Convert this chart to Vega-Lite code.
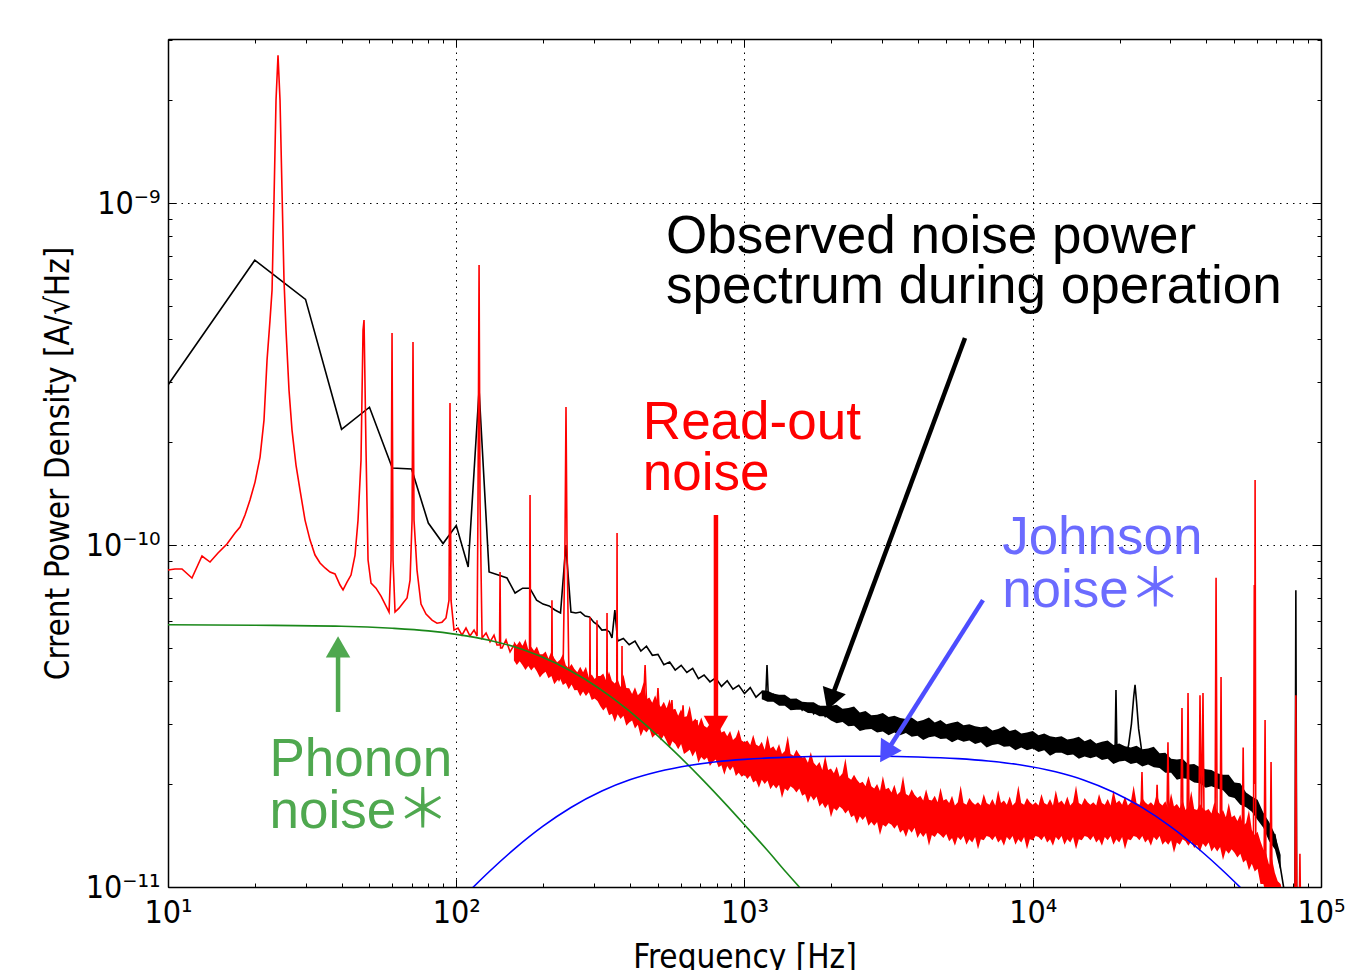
{
"$schema": "https://vega.github.io/schema/vega-lite/v6.json",
"width": 1153, "height": 848,
"autosize": {"type": "none"},
"padding": {"left": 168, "top": 39, "right": 27, "bottom": 83},
"background": "white",
"config": {
 "view": {"stroke": null},
 "axis": {"domainColor": "#000", "domainWidth": 1.5, "tickColor": "#000", "tickWidth": 1, "labelColor": "#000", "labelFont": "DejaVu Sans Condensed, DejaVu Sans", "labelFontSize": 32, "titleFont": "DejaVu Sans Condensed, DejaVu Sans", "titleFontSize": 33, "titleFontWeight": "normal", "titleColor": "#000", "gridColor": "#000", "gridWidth": 1, "gridDash": [1.5, 5], "labelOverlap": false, "labelFlush": false, "labelBound": false}
},
"datasets": {
 "obs": [
  {"f":10,"v":2.94e-10},{"f":20,"v":6.81e-10},{"f":30,"v":5.23e-10},{"f":40,"v":2.18e-10},{"f":50,"v":2.53e-10},{"f":60,"v":1.68e-10},{"f":70,"v":1.67e-10},{"f":80,"v":1.16e-10},{"f":90,"v":1.01e-10},{"f":100,"v":1.14e-10},{"f":110,"v":8.63e-11},{"f":120,"v":2.84e-10},{"f":130,"v":8.34e-11},{"f":140,"v":8.17e-11},{"f":150,"v":8.01e-11},{"f":160,"v":7.24e-11},{"f":170,"v":7.48e-11},{"f":180,"v":7.48e-11},{"f":190,"v":6.9e-11},{"f":200,"v":6.72e-11},{"f":210,"v":6.64e-11},{"f":220,"v":6.46e-11},{"f":230,"v":6.33e-11},{"f":240,"v":1.0e-10},{"f":250,"v":6.37e-11},{"f":260,"v":6.33e-11},{"f":270,"v":6.37e-11},{"f":280,"v":6.2e-11},{"f":290,"v":6.16e-11},{"f":300,"v":5.95e-11},{"f":310,"v":5.83e-11},{"f":320,"v":5.64e-11},{"f":331,"v":5.66e-11},{"f":340,"v":5.57e-11},{"f":347,"v":5.35e-11},{"f":355,"v":6.45e-11},{"f":363,"v":5.24e-11},{"f":380,"v":5.33e-11},{"f":398,"v":5.11e-11},{"f":417,"v":5.24e-11},{"f":437,"v":4.9e-11},{"f":457,"v":5.06e-11},{"f":479,"v":4.76e-11},{"f":501,"v":4.79e-11},{"f":525,"v":4.47e-11},{"f":550,"v":4.55e-11},{"f":575,"v":4.31e-11},{"f":603,"v":4.45e-11},{"f":631,"v":4.24e-11},{"f":661,"v":4.36e-11},{"f":692,"v":4.07e-11},{"f":724,"v":4.17e-11},{"f":759,"v":3.98e-11},{"f":794,"v":4.09e-11},{"f":832,"v":3.86e-11},{"f":871,"v":4.01e-11},{"f":912,"v":3.79e-11},{"f":955,"v":3.89e-11},{"f":1000,"v":3.68e-11},{"f":1047,"v":3.83e-11},{"f":1096,"v":3.59e-11},{"f":1148,"v":3.72e-11},{"f":1185,"v":3.6e-11},{"f":1197,"v":4.46e-11},{"f":1210,"v":3.58e-11},{"f":1259,"v":3.66e-11},{"f":1318,"v":3.44e-11},{"f":1380,"v":3.56e-11},{"f":1445,"v":3.37e-11},{"f":1514,"v":3.52e-11},{"f":1585,"v":3.29e-11},{"f":1660,"v":3.43e-11},{"f":1738,"v":3.21e-11},{"f":1820,"v":3.37e-11},{"f":1905,"v":3.15e-11},{"f":1995,"v":3.32e-11},{"f":2089,"v":3.11e-11},{"f":2188,"v":3.28e-11},{"f":2291,"v":3.08e-11},{"f":2399,"v":3.21e-11},{"f":2512,"v":2.98e-11},{"f":2630,"v":3.13e-11},{"f":2754,"v":2.96e-11},{"f":2884,"v":3.11e-11},{"f":3020,"v":2.92e-11},{"f":3162,"v":3.06e-11},{"f":3311,"v":2.88e-11},{"f":3467,"v":3.05e-11},{"f":3631,"v":2.87e-11},{"f":3802,"v":3.03e-11},{"f":3981,"v":2.83e-11},{"f":4169,"v":2.98e-11},{"f":4365,"v":2.82e-11},{"f":4571,"v":2.99e-11},{"f":4786,"v":2.79e-11},{"f":5012,"v":2.94e-11},{"f":5248,"v":2.77e-11},{"f":5495,"v":2.93e-11},{"f":5754,"v":2.74e-11},{"f":6026,"v":2.89e-11},{"f":6310,"v":2.71e-11},{"f":6607,"v":2.88e-11},{"f":6918,"v":2.7e-11},{"f":7244,"v":2.83e-11},{"f":7586,"v":2.64e-11},{"f":7943,"v":2.81e-11},{"f":8318,"v":2.63e-11},{"f":8710,"v":2.79e-11},{"f":9120,"v":2.61e-11},{"f":9550,"v":2.76e-11},{"f":10000,"v":2.56e-11},{"f":10470,"v":2.74e-11},{"f":10960,"v":2.55e-11},{"f":11480,"v":2.69e-11},{"f":12020,"v":2.51e-11},{"f":12590,"v":2.68e-11},{"f":13180,"v":2.5e-11},{"f":13800,"v":2.67e-11},{"f":14450,"v":2.47e-11},{"f":15140,"v":2.62e-11},{"f":15850,"v":2.44e-11},{"f":16600,"v":2.59e-11},{"f":17380,"v":2.43e-11},{"f":18200,"v":2.57e-11},{"f":19050,"v":2.4e-11},{"f":19300,"v":2.5e-11},{"f":19440,"v":3.77e-11},{"f":19600,"v":2.45e-11},{"f":19950,"v":2.54e-11},{"f":20890,"v":2.38e-11},{"f":21500,"v":2.6e-11},{"f":22000,"v":3.0e-11},{"f":22400,"v":3.6e-11},{"f":22640,"v":3.9e-11},{"f":22900,"v":3.5e-11},{"f":23300,"v":2.9e-11},{"f":23800,"v":2.55e-11},{"f":23990,"v":2.36e-11},{"f":25120,"v":2.48e-11},{"f":26300,"v":2.29e-11},{"f":27540,"v":2.42e-11},{"f":28840,"v":2.22e-11},{"f":30200,"v":2.34e-11},{"f":31620,"v":2.16e-11},{"f":33110,"v":2.27e-11},{"f":34670,"v":2.09e-11},{"f":36310,"v":2.22e-11},{"f":38020,"v":2.05e-11},{"f":39810,"v":2.16e-11},{"f":41690,"v":2.0e-11},{"f":43650,"v":2.12e-11},{"f":45710,"v":1.94e-11},{"f":47860,"v":2.03e-11},{"f":50120,"v":1.85e-11},{"f":52480,"v":1.94e-11},{"f":54950,"v":1.74e-11},{"f":57540,"v":1.79e-11},{"f":60260,"v":1.61e-11},{"f":63100,"v":1.63e-11},{"f":66070,"v":1.39e-11},{"f":69180,"v":1.42e-11},{"f":72440,"v":1.13e-11},{"f":75860,"v":8.9e-12},{"f":81200,"v":8e-12},{"f":81800,"v":7.38e-11},{"f":82400,"v":8e-12},{"f":95000,"v":8e-12}
 ],
 "obsband": [
  {"f":1148,"lo":3.54e-11,"hi":3.76e-11},{"f":1202,"lo":3.48e-11,"hi":3.75e-11},{"f":1259,"lo":3.48e-11,"hi":3.68e-11},{"f":1318,"lo":3.39e-11,"hi":3.65e-11},{"f":1380,"lo":3.39e-11,"hi":3.65e-11},{"f":1445,"lo":3.29e-11,"hi":3.55e-11},{"f":1514,"lo":3.3e-11,"hi":3.56e-11},{"f":1585,"lo":3.3e-11,"hi":3.48e-11},{"f":1660,"lo":3.23e-11,"hi":3.47e-11},{"f":1738,"lo":3.22e-11,"hi":3.47e-11},{"f":1820,"lo":3.16e-11,"hi":3.39e-11},{"f":1905,"lo":3.16e-11,"hi":3.39e-11},
  {"f":1995,"lo":3.07e-11,"hi":3.39e-11},{"f":2089,"lo":3.01e-11,"hi":3.41e-11},{"f":2188,"lo":3.04e-11,"hi":3.32e-11},{"f":2291,"lo":2.95e-11,"hi":3.34e-11},{"f":2399,"lo":2.96e-11,"hi":3.37e-11},{"f":2512,"lo":2.86e-11,"hi":3.24e-11},{"f":2630,"lo":2.89e-11,"hi":3.27e-11},{"f":2754,"lo":2.9e-11,"hi":3.18e-11},{"f":2884,"lo":2.83e-11,"hi":3.19e-11},{"f":3020,"lo":2.85e-11,"hi":3.23e-11},{"f":3162,"lo":2.78e-11,"hi":3.14e-11},{"f":3311,"lo":2.83e-11,"hi":3.17e-11},{"f":3467,"lo":2.78e-11,"hi":3.12e-11},{"f":3631,"lo":2.82e-11,"hi":3.1e-11},{"f":3802,"lo":2.75e-11,"hi":3.13e-11},{"f":3981,"lo":2.77e-11,"hi":3.05e-11},{"f":4169,"lo":2.69e-11,"hi":3.08e-11},{"f":4365,"lo":2.74e-11,"hi":3.13e-11},{"f":4571,"lo":2.76e-11,"hi":3.03e-11},{"f":4786,"lo":2.71e-11,"hi":3.08e-11},{"f":5012,"lo":2.72e-11,"hi":2.99e-11},{"f":5248,"lo":2.65e-11,"hi":3.02e-11},{"f":5495,"lo":2.7e-11,"hi":3.05e-11},{"f":5754,"lo":2.66e-11,"hi":2.97e-11},{"f":6026,"lo":2.68e-11,"hi":2.99e-11},{"f":6310,"lo":2.62e-11,"hi":2.95e-11},{"f":6607,"lo":2.65e-11,"hi":2.93e-11},{"f":6918,"lo":2.56e-11,"hi":2.95e-11},{"f":7244,"lo":2.6e-11,"hi":2.87e-11},{"f":7586,"lo":2.62e-11,"hi":2.9e-11},{"f":7943,"lo":2.57e-11,"hi":2.95e-11},{"f":8318,"lo":2.58e-11,"hi":2.86e-11},{"f":8710,"lo":2.51e-11,"hi":2.89e-11},{"f":9120,"lo":2.56e-11,"hi":2.81e-11},{"f":9550,"lo":2.51e-11,"hi":2.83e-11},{"f":10000,"lo":2.54e-11,"hi":2.86e-11},{"f":10470,"lo":2.48e-11,"hi":2.78e-11},{"f":10960,"lo":2.51e-11,"hi":2.81e-11},{"f":11480,"lo":2.42e-11,"hi":2.76e-11},{"f":12020,"lo":2.47e-11,"hi":2.74e-11},{"f":12590,"lo":2.47e-11,"hi":2.76e-11},{"f":13180,"lo":2.43e-11,"hi":2.7e-11},{"f":13800,"lo":2.44e-11,"hi":2.72e-11},{"f":14450,"lo":2.37e-11,"hi":2.75e-11},{"f":15140,"lo":2.41e-11,"hi":2.67e-11},{"f":15850,"lo":2.38e-11,"hi":2.71e-11},{"f":16600,"lo":2.41e-11,"hi":2.63e-11},{"f":17380,"lo":2.35e-11,"hi":2.66e-11},{"f":18200,"lo":2.37e-11,"hi":2.68e-11},{"f":19050,"lo":2.29e-11,"hi":2.6e-11},{"f":19950,"lo":2.33e-11,"hi":2.63e-11},{"f":20890,"lo":2.34e-11,"hi":2.58e-11},{"f":21880,"lo":2.29e-11,"hi":2.56e-11},{"f":22910,"lo":2.31e-11,"hi":2.59e-11},{"f":23990,"lo":2.25e-11,"hi":2.53e-11},{"f":25120,"lo":2.28e-11,"hi":2.54e-11},{"f":26300,"lo":2.24e-11,"hi":2.57e-11},{"f":27540,"lo":2.23e-11,"hi":2.46e-11},{"f":28840,"lo":2.16e-11,"hi":2.47e-11},{"f":30200,"lo":2.16e-11,"hi":2.37e-11},{"f":31620,"lo":2.06e-11,"hi":2.36e-11},{"f":33110,"lo":2.08e-11,"hi":2.37e-11},{"f":34670,"lo":2.07e-11,"hi":2.28e-11},{"f":36310,"lo":2.02e-11,"hi":2.29e-11},{"f":38020,"lo":2.01e-11,"hi":2.24e-11},{"f":39810,"lo":1.95e-11,"hi":2.21e-11},{"f":41690,"lo":1.97e-11,"hi":2.2e-11},{"f":43650,"lo":1.94e-11,"hi":2.15e-11},{"f":45710,"lo":1.92e-11,"hi":2.13e-11},{"f":47860,"lo":1.84e-11,"hi":2.13e-11},{"f":50120,"lo":1.82e-11,"hi":2.02e-11},{"f":52480,"lo":1.74e-11,"hi":2.01e-11},{"f":54950,"lo":1.71e-11,"hi":1.89e-11},{"f":57540,"lo":1.66e-11,"hi":1.84e-11},{"f":60260,"lo":1.57e-11,"hi":1.8e-11},{"f":63100,"lo":1.49e-11,"hi":1.65e-11},{"f":66070,"lo":1.36e-11,"hi":1.55e-11},{"f":69180,"lo":1.29e-11,"hi":1.43e-11},{"f":72440,"lo":1.11e-11,"hi":1.24e-11}
 ],
 "readout": [
  {"f":10,"v":8.45e-11},{"f":10.57,"v":8.51e-11},{"f":11.18,"v":8.51e-11},{"f":12.11,"v":8.01e-11},{"f":13.12,"v":9.29e-11},{"f":13.99,"v":8.92e-11},{"f":14.91,"v":9.48e-11},{"f":16.02,"v":1.007e-10},{"f":17.08,"v":1.084e-10},{"f":17.78,"v":1.129e-10},{"f":18.5,"v":1.224e-10},{"f":19.25,"v":1.354e-10},{"f":20.04,"v":1.528e-10},{"f":20.86,"v":1.808e-10},{"f":21.53,"v":2.32e-10},{"f":22.06,"v":3.475e-10},{"f":22.59,"v":4.548e-10},{"f":22.96,"v":5.567e-10},{"f":23.32,"v":1.02e-9},{"f":23.7,"v":2.001e-9},{"f":24.08,"v":2.708e-9},{"f":24.47,"v":2.001e-9},{"f":24.86,"v":1.091e-9},{"f":25.26,"v":5.954e-10},{"f":25.67,"v":4.253e-10},{"f":26.29,"v":2.839e-10},{"f":26.93,"v":2.169e-10},{"f":27.8,"v":1.714e-10},{"f":28.71,"v":1.448e-10},{"f":29.88,"v":1.183e-10},{"f":31.1,"v":1.034e-10},{"f":32.36,"v":9.35e-11},{"f":33.68,"v":8.86e-11},{"f":35.06,"v":8.57e-11},{"f":36.48,"v":8.34e-11},{"f":37.97,"v":8.23e-11},{"f":39.52,"v":7.64e-11},{"f":40.48,"v":7.39e-11},{"f":41.79,"v":7.79e-11},{"f":43.14,"v":8.17e-11},{"f":44.55,"v":9.35e-11},{"f":45.63,"v":1.183e-10},{"f":46.73,"v":1.772e-10},{"f":47.49,"v":4.253e-10},{"f":47.87,"v":4.548e-10},{"f":48.64,"v":1.895e-10},{"f":49.43,"v":9.04e-11},{"f":50.62,"v":7.74e-11},{"f":52.68,"v":7.48e-11},{"f":54.83,"v":7.09e-11},{"f":57.07,"v":6.63e-11},{"f":58.46,"v":6.37e-11},{"f":59.4,"v":9.04e-11},{"f":59.87,"v":4.168e-10},{"f":60.35,"v":9.04e-11},{"f":61.32,"v":6.37e-11},{"f":63.32,"v":6.54e-11},{"f":65.38,"v":6.77e-11},{"f":67.5,"v":7.0e-11},{"f":69.14,"v":7.9e-11},{"f":70.26,"v":1.183e-10},{"f":70.79,"v":3.923e-10},{"f":71.36,"v":1.183e-10},{"f":73.09,"v":8.45e-11},{"f":75.46,"v":6.72e-11},{"f":78.54,"v":6.28e-11},{"f":82.4,"v":6.03e-11},{"f":85.75,"v":5.91e-11},{"f":89.25,"v":5.95e-11},{"f":92.14,"v":6.12e-11},{"f":94.38,"v":6.9e-11},{"f":95.13,"v":2.601e-10},{"f":95.9,"v":6.9e-11},{"f":98.22,"v":5.64e-11},{"f":101.4,"v":5.72e-11},{"f":104.7,"v":5.45e-11},{"f":108.1,"v":5.72e-11},{"f":111.6,"v":5.42e-11},{"f":115.3,"v":5.64e-11},{"f":118.1,"v":5.42e-11},{"f":119,"v":1.354e-10},{"f":120,"v":6.59e-10},{"f":120.9,"v":1.354e-10},{"f":122.9,"v":5.35e-11},{"f":126.9,"v":5.53e-11},{"f":131,"v":5.21e-11},{"f":135.2,"v":5.45e-11},{"f":138.5,"v":5.1e-11},{"f":141.3,"v":5.1e-11},{"f":141.9,"v":8.34e-11},{"f":142.5,"v":5.0e-11},{"f":144.2,"v":5.0e-11},{"f":148.8,"v":5.28e-11},{"f":153.7,"v":4.87e-11},{"f":158.6,"v":5.1e-11},{"f":163.8,"v":4.74e-11},{"f":169.1,"v":5.03e-11},{"f":174.6,"v":4.61e-11},{"f":179.5,"v":4.6e-11},{"f":180.3,"v":1.4e-10},{"f":181.1,"v":4.6e-11},{"f":184.6,"v":4.55e-11},{"f":190.6,"v":4.77e-11},{"f":196.8,"v":4.37e-11},{"f":203.2,"v":4.61e-11},{"f":209.8,"v":4.25e-11},{"f":214.2,"v":4.3e-11},{"f":214.8,"v":6.9e-11},{"f":215.4,"v":4.3e-11},{"f":220.1,"v":4.31e-11},{"f":227.3,"v":4.03e-11},{"f":234.7,"v":4.25e-11},{"f":238.4,"v":1.034e-10},{"f":240.3,"v":2.532e-10},{"f":242.2,"v":1.034e-10},{"f":246.1,"v":3.98e-11},{"f":254.1,"v":4.17e-11},{"f":262.4,"v":3.82e-11},{"f":270.9,"v":4.08e-11},{"f":279.7,"v":3.72e-11},{"f":290.4,"v":3.8e-11},{"f":291.1,"v":6.16e-11},{"f":291.8,"v":3.8e-11},{"f":298.2,"v":3.77e-11},{"f":307,"v":3.7e-11},{"f":307.8,"v":6.03e-11},{"f":308.6,"v":3.7e-11},{"f":315.3,"v":3.57e-11},{"f":325.6,"v":3.77e-11},{"f":332.7,"v":3.6e-11},{"f":333.5,"v":6.33e-11},{"f":334.3,"v":3.6e-11},{"f":341.6,"v":3.52e-11},{"f":349.9,"v":3.64e-11},{"f":360.4,"v":3.5e-11},{"f":361.3,"v":1.084e-10},{"f":362.2,"v":3.5e-11},{"f":370,"v":3.4e-11},{"f":375.1,"v":3.4e-11},{"f":375.9,"v":5.07e-11},{"f":376.7,"v":3.4e-11},{"f":385,"v":3.25e-11},{"f":397.5,"v":3.45e-11},{"f":415,"v":3.35e-11},{"f":445,"v":3.25e-11},{"f":452,"v":4.46e-11},{"f":459,"v":3.2e-11},{"f":494,"v":3.12e-11},{"f":501,"v":3.82e-11},{"f":508,"v":3.08e-11},{"f":553,"v":2.98e-11},{"f":560,"v":3.52e-11},{"f":567,"v":2.95e-11},{"f":605,"v":2.88e-11},{"f":612,"v":3.4e-11},{"f":619,"v":2.85e-11},{"f":676,"v":2.75e-11},{"f":684,"v":3.08e-11},{"f":692,"v":2.72e-11},{"f":800,"v":2.58e-11},{"f":1000,"v":2.39e-11},{"f":1500,"v":2.17e-11},{"f":2000,"v":1.95e-11},{"f":3000,"v":1.73e-11},{"f":5000,"v":1.59e-11},{"f":10000,"v":1.56e-11},{"f":20000,"v":1.56e-11},{"f":23700,"v":1.56e-11},{"f":23930,"v":2.17e-11},{"f":24150,"v":1.56e-11},{"f":26750,"v":1.56e-11},{"f":27000,"v":1.99e-11},{"f":27250,"v":1.56e-11},{"f":29200,"v":1.55e-11},{"f":29450,"v":2.65e-11},{"f":29700,"v":1.55e-11},{"f":32650,"v":1.54e-11},{"f":32940,"v":3.34e-11},{"f":33200,"v":1.54e-11},{"f":34300,"v":1.53e-11},{"f":34570,"v":3.69e-11},{"f":34850,"v":1.53e-11},{"f":37700,"v":1.52e-11},{"f":38040,"v":3.64e-11},{"f":38500,"v":1.52e-11},{"f":38960,"v":3.69e-11},{"f":39300,"v":1.51e-11},{"f":42900,"v":1.5e-11},{"f":43250,"v":8.02e-11},{"f":43600,"v":1.5e-11},{"f":44700,"v":1.49e-11},{"f":45000,"v":4.11e-11},{"f":45300,"v":1.48e-11},{"f":53300,"v":1.4e-11},{"f":53700,"v":2.56e-11},{"f":54100,"v":1.39e-11},{"f":58300,"v":1.3e-11},{"f":58700,"v":7.64e-11},{"f":58900,"v":2.0e-11},{"f":59070,"v":1.55e-10},{"f":59400,"v":1.28e-11},{"f":63500,"v":1.19e-11},{"f":63970,"v":3.08e-11},{"f":64400,"v":1.17e-11},{"f":66600,"v":1.08e-11},{"f":67100,"v":2.32e-11},{"f":67600,"v":1.05e-11},{"f":72000,"v":8e-12},{"f":81200,"v":8e-12},{"f":81800,"v":3.64e-11},{"f":82400,"v":8e-12},{"f":84000,"v":8e-12},{"f":84500,"v":1.25e-11},{"f":85000,"v":8e-12},{"f":95000,"v":8e-12}
 ],
 "readband": [
  {"f":158.5,"lo":4.6e-11,"hi":5.23e-11},{"f":162.2,"lo":4.46e-11,"hi":5.09e-11},{"f":166,"lo":4.57e-11,"hi":5.24e-11},{"f":169.8,"lo":4.45e-11,"hi":5.07e-11},{"f":173.8,"lo":4.31e-11,"hi":5.31e-11},{"f":177.8,"lo":4.43e-11,"hi":4.95e-11},{"f":182,"lo":4.3e-11,"hi":5.04e-11},{"f":186.2,"lo":4.4e-11,"hi":4.91e-11},{"f":190.5,"lo":4.27e-11,"hi":5.05e-11},{"f":195,"lo":4.1e-11,"hi":4.79e-11},{"f":199.5,"lo":4.2e-11,"hi":4.79e-11},{"f":204.2,"lo":4.26e-11,"hi":4.88e-11},{"f":208.9,"lo":4.08e-11,"hi":4.66e-11},{"f":213.8,"lo":4.14e-11,"hi":4.88e-11},{"f":218.8,"lo":3.92e-11,"hi":4.67e-11},{"f":223.9,"lo":4.02e-11,"hi":4.54e-11},{"f":229.1,"lo":4.07e-11,"hi":4.62e-11},{"f":234.4,"lo":3.9e-11,"hi":4.79e-11},{"f":239.9,"lo":3.95e-11,"hi":4.45e-11},{"f":245.5,"lo":3.79e-11,"hi":4.37e-11},{"f":251.2,"lo":3.91e-11,"hi":4.49e-11},{"f":257,"lo":3.76e-11,"hi":4.34e-11},{"f":263,"lo":3.77e-11,"hi":4.25e-11},{"f":269.2,"lo":3.61e-11,"hi":4.41e-11},{"f":275.4,"lo":3.73e-11,"hi":4.25e-11},{"f":281.8,"lo":3.62e-11,"hi":4.41e-11},{"f":288.4,"lo":3.71e-11,"hi":4.1e-11},{"f":295.1,"lo":3.52e-11,"hi":4.18e-11},{"f":302,"lo":3.56e-11,"hi":4.06e-11},{"f":309,"lo":3.5e-11,"hi":4.14e-11},
  {"f":316.2,"lo":3.38e-11,"hi":4.14e-11},{"f":323.6,"lo":3.28e-11,"hi":4.21e-11},{"f":331.1,"lo":3.36e-11,"hi":4.02e-11},{"f":338.8,"lo":3.18e-11,"hi":4.27e-11},{"f":346.7,"lo":3.21e-11,"hi":4.01e-11},{"f":354.8,"lo":3.04e-11,"hi":3.94e-11},{"f":363.1,"lo":3.2e-11,"hi":4.05e-11},{"f":371.5,"lo":3.1e-11,"hi":3.84e-11},{"f":380.2,"lo":3.17e-11,"hi":4.18e-11},{"f":389,"lo":2.96e-11,"hi":3.82e-11},{"f":398.1,"lo":3.03e-11,"hi":3.81e-11},{"f":407.4,"lo":3.07e-11,"hi":3.67e-11},{"f":416.9,"lo":2.91e-11,"hi":3.84e-11},{"f":426.6,"lo":2.98e-11,"hi":3.64e-11},{"f":436.5,"lo":2.76e-11,"hi":3.71e-11},{"f":446.7,"lo":2.89e-11,"hi":3.97e-11},{"f":457.1,"lo":2.83e-11,"hi":3.54e-11},{"f":467.7,"lo":2.91e-11,"hi":3.58e-11},{"f":478.6,"lo":2.73e-11,"hi":3.46e-11},{"f":489.8,"lo":2.79e-11,"hi":3.64e-11},{"f":501.2,"lo":2.8e-11,"hi":3.45e-11},{"f":512.9,"lo":2.68e-11,"hi":3.36e-11},{"f":524.8,"lo":2.78e-11,"hi":3.48e-11},{"f":537,"lo":2.67e-11,"hi":3.33e-11},{"f":549.5,"lo":2.55e-11,"hi":3.54e-11},{"f":562.3,"lo":2.67e-11,"hi":3.3e-11},{"f":575.4,"lo":2.62e-11,"hi":3.32e-11},{"f":588.8,"lo":2.53e-11,"hi":3.17e-11},{"f":602.6,"lo":2.62e-11,"hi":3.31e-11},{"f":616.6,"lo":2.45e-11,"hi":3.14e-11},{"f":631,"lo":2.48e-11,"hi":3.16e-11},{"f":645.7,"lo":2.52e-11,"hi":3.39e-11},{"f":660.7,"lo":2.41e-11,"hi":3.05e-11},{"f":676.1,"lo":2.5e-11,"hi":3.11e-11},{"f":691.8,"lo":2.31e-11,"hi":2.96e-11},{"f":707.9,"lo":2.4e-11,"hi":3.13e-11},{"f":724.4,"lo":2.35e-11,"hi":2.96e-11},{"f":741.3,"lo":2.39e-11,"hi":2.92e-11},{"f":758.6,"lo":2.26e-11,"hi":3.0e-11},{"f":776.2,"lo":2.32e-11,"hi":2.92e-11},{"f":794.3,"lo":2.36e-11,"hi":2.82e-11},{"f":812.8,"lo":2.24e-11,"hi":3.01e-11},{"f":831.8,"lo":2.27e-11,"hi":2.83e-11},{"f":851.1,"lo":2.13e-11,"hi":2.86e-11},{"f":871,"lo":2.26e-11,"hi":2.76e-11},{"f":891.3,"lo":2.19e-11,"hi":2.86e-11},{"f":912,"lo":2.25e-11,"hi":2.69e-11},{"f":933.3,"lo":2.11e-11,"hi":2.74e-11},{"f":955,"lo":2.16e-11,"hi":2.89e-11},{"f":977.2,"lo":2.1e-11,"hi":2.68e-11},
  {"f":1000,"lo":2.13e-11,"hi":2.65e-11},{"f":1023,"lo":2.07e-11,"hi":2.68e-11},{"f":1047,"lo":2.12e-11,"hi":2.6e-11},{"f":1072,"lo":2.02e-11,"hi":2.79e-11},{"f":1096,"lo":2.05e-11,"hi":2.61e-11},{"f":1122,"lo":1.95e-11,"hi":2.58e-11},{"f":1148,"lo":2.06e-11,"hi":2.66e-11},{"f":1175,"lo":2.0e-11,"hi":2.52e-11},{"f":1202,"lo":2.05e-11,"hi":2.78e-11},{"f":1230,"lo":1.93e-11,"hi":2.54e-11},{"f":1259,"lo":1.99e-11,"hi":2.58e-11},{"f":1288,"lo":1.94e-11,"hi":2.5e-11},{"f":1318,"lo":1.99e-11,"hi":2.62e-11},{"f":1349,"lo":1.82e-11,"hi":2.45e-11},{"f":1380,"lo":1.94e-11,"hi":2.5e-11},{"f":1413,"lo":1.91e-11,"hi":2.77e-11},{"f":1445,"lo":1.97e-11,"hi":2.45e-11},{"f":1479,"lo":1.94e-11,"hi":2.42e-11},{"f":1514,"lo":1.89e-11,"hi":2.52e-11},{"f":1549,"lo":1.94e-11,"hi":2.44e-11},{"f":1585,"lo":1.85e-11,"hi":2.39e-11},{"f":1622,"lo":1.87e-11,"hi":2.4e-11},{"f":1660,"lo":1.76e-11,"hi":2.31e-11},{"f":1698,"lo":1.85e-11,"hi":2.48e-11},{"f":1738,"lo":1.79e-11,"hi":2.31e-11},{"f":1778,"lo":1.84e-11,"hi":2.26e-11},{"f":1820,"lo":1.72e-11,"hi":2.32e-11},{"f":1862,"lo":1.76e-11,"hi":2.2e-11},{"f":1905,"lo":1.7e-11,"hi":2.42e-11},{"f":1950,"lo":1.75e-11,"hi":2.2e-11},{"f":1995,"lo":1.6e-11,"hi":2.22e-11},{"f":2042,"lo":1.7e-11,"hi":2.15e-11},{"f":2089,"lo":1.67e-11,"hi":2.25e-11},{"f":2138,"lo":1.72e-11,"hi":2.1e-11},{"f":2188,"lo":1.69e-11,"hi":2.15e-11},{"f":2239,"lo":1.64e-11,"hi":2.38e-11},{"f":2291,"lo":1.68e-11,"hi":2.09e-11},{"f":2344,"lo":1.6e-11,"hi":2.06e-11},{"f":2399,"lo":1.62e-11,"hi":2.13e-11},{"f":2455,"lo":1.53e-11,"hi":2.06e-11},{"f":2512,"lo":1.61e-11,"hi":2.01e-11},{"f":2570,"lo":1.57e-11,"hi":2.03e-11},{"f":2630,"lo":1.61e-11,"hi":1.97e-11},{"f":2692,"lo":1.51e-11,"hi":2.11e-11},{"f":2754,"lo":1.55e-11,"hi":1.97e-11},{"f":2818,"lo":1.51e-11,"hi":1.94e-11},{"f":2884,"lo":1.55e-11,"hi":2.0e-11},{"f":2951,"lo":1.42e-11,"hi":1.91e-11},{"f":3020,"lo":1.52e-11,"hi":2.11e-11},{"f":3090,"lo":1.5e-11,"hi":1.93e-11},{"f":3162,"lo":1.54e-11,"hi":1.95e-11},{"f":3236,"lo":1.52e-11,"hi":1.89e-11},{"f":3311,"lo":1.48e-11,"hi":1.99e-11},{"f":3388,"lo":1.52e-11,"hi":1.86e-11},{"f":3467,"lo":1.44e-11,"hi":1.9e-11},{"f":3548,"lo":1.47e-11,"hi":2.11e-11},{"f":3631,"lo":1.4e-11,"hi":1.87e-11},{"f":3715,"lo":1.48e-11,"hi":1.85e-11},{"f":3802,"lo":1.44e-11,"hi":1.93e-11},{"f":3890,"lo":1.49e-11,"hi":1.86e-11},{"f":3981,"lo":1.39e-11,"hi":1.82e-11},{"f":4074,"lo":1.44e-11,"hi":1.85e-11},{"f":4169,"lo":1.4e-11,"hi":1.79e-11},{"f":4266,"lo":1.44e-11,"hi":1.93e-11},{"f":4365,"lo":1.32e-11,"hi":1.8e-11},{"f":4467,"lo":1.42e-11,"hi":1.79e-11},{"f":4571,"lo":1.4e-11,"hi":1.85e-11},{"f":4677,"lo":1.44e-11,"hi":1.77e-11},{"f":4786,"lo":1.42e-11,"hi":1.95e-11},{"f":4898,"lo":1.39e-11,"hi":1.79e-11},{"f":5012,"lo":1.43e-11,"hi":1.81e-11},{"f":5129,"lo":1.36e-11,"hi":1.76e-11},{"f":5248,"lo":1.39e-11,"hi":1.85e-11},{"f":5370,"lo":1.32e-11,"hi":1.73e-11},{"f":5495,"lo":1.4e-11,"hi":1.77e-11},{"f":5623,"lo":1.37e-11,"hi":1.98e-11},{"f":5754,"lo":1.41e-11,"hi":1.76e-11},{"f":5888,"lo":1.33e-11,"hi":1.74e-11},{"f":6026,"lo":1.38e-11,"hi":1.82e-11},{"f":6166,"lo":1.35e-11,"hi":1.77e-11},{"f":6310,"lo":1.4e-11,"hi":1.74e-11},{"f":6457,"lo":1.29e-11,"hi":1.77e-11},{"f":6607,"lo":1.38e-11,"hi":1.73e-11},{"f":6761,"lo":1.37e-11,"hi":1.87e-11},{"f":6918,"lo":1.41e-11,"hi":1.76e-11},{"f":7079,"lo":1.4e-11,"hi":1.74e-11},{"f":7244,"lo":1.37e-11,"hi":1.81e-11},{"f":7413,"lo":1.41e-11,"hi":1.73e-11},{"f":7586,"lo":1.35e-11,"hi":1.92e-11},{"f":7762,"lo":1.38e-11,"hi":1.76e-11},{"f":7943,"lo":1.32e-11,"hi":1.79e-11},{"f":8128,"lo":1.4e-11,"hi":1.74e-11},{"f":8318,"lo":1.37e-11,"hi":1.84e-11},{"f":8511,"lo":1.41e-11,"hi":1.73e-11},{"f":8710,"lo":1.33e-11,"hi":1.77e-11},{"f":8913,"lo":1.38e-11,"hi":1.98e-11},{"f":9120,"lo":1.35e-11,"hi":1.76e-11},{"f":9333,"lo":1.4e-11,"hi":1.74e-11},{"f":9550,"lo":1.29e-11,"hi":1.82e-11},{"f":9772,"lo":1.38e-11,"hi":1.77e-11},
  {"f":10000,"lo":1.37e-11,"hi":1.74e-11},{"f":10230,"lo":1.41e-11,"hi":1.77e-11},{"f":10470,"lo":1.4e-11,"hi":1.73e-11},{"f":10720,"lo":1.37e-11,"hi":1.87e-11},{"f":10960,"lo":1.41e-11,"hi":1.76e-11},{"f":11220,"lo":1.35e-11,"hi":1.74e-11},{"f":11480,"lo":1.38e-11,"hi":1.81e-11},{"f":11750,"lo":1.32e-11,"hi":1.73e-11},{"f":12020,"lo":1.4e-11,"hi":1.92e-11},{"f":12300,"lo":1.37e-11,"hi":1.76e-11},{"f":12590,"lo":1.41e-11,"hi":1.79e-11},{"f":12880,"lo":1.33e-11,"hi":1.74e-11},{"f":13180,"lo":1.38e-11,"hi":1.84e-11},{"f":13490,"lo":1.35e-11,"hi":1.73e-11},{"f":13800,"lo":1.4e-11,"hi":1.77e-11},{"f":14130,"lo":1.29e-11,"hi":1.98e-11},{"f":14450,"lo":1.38e-11,"hi":1.76e-11},{"f":14790,"lo":1.37e-11,"hi":1.74e-11},{"f":15140,"lo":1.41e-11,"hi":1.82e-11},{"f":15490,"lo":1.4e-11,"hi":1.77e-11},{"f":15850,"lo":1.37e-11,"hi":1.74e-11},{"f":16220,"lo":1.41e-11,"hi":1.77e-11},{"f":16600,"lo":1.35e-11,"hi":1.73e-11},{"f":16980,"lo":1.38e-11,"hi":1.87e-11},{"f":17380,"lo":1.32e-11,"hi":1.76e-11},{"f":17780,"lo":1.4e-11,"hi":1.74e-11},{"f":18200,"lo":1.37e-11,"hi":1.81e-11},{"f":18620,"lo":1.41e-11,"hi":1.73e-11},{"f":19050,"lo":1.33e-11,"hi":1.92e-11},{"f":19500,"lo":1.38e-11,"hi":1.76e-11},{"f":19950,"lo":1.35e-11,"hi":1.79e-11},{"f":20420,"lo":1.4e-11,"hi":1.74e-11},{"f":20890,"lo":1.29e-11,"hi":1.84e-11},{"f":21380,"lo":1.38e-11,"hi":1.73e-11},{"f":21880,"lo":1.37e-11,"hi":1.77e-11},{"f":22390,"lo":1.41e-11,"hi":1.98e-11},{"f":22910,"lo":1.4e-11,"hi":1.76e-11},{"f":23440,"lo":1.37e-11,"hi":1.74e-11},{"f":23990,"lo":1.41e-11,"hi":1.82e-11},{"f":24550,"lo":1.35e-11,"hi":1.77e-11},{"f":25120,"lo":1.38e-11,"hi":1.74e-11},{"f":25700,"lo":1.32e-11,"hi":1.77e-11},{"f":26300,"lo":1.4e-11,"hi":1.73e-11},{"f":26920,"lo":1.37e-11,"hi":1.87e-11},{"f":27540,"lo":1.41e-11,"hi":1.76e-11},{"f":28180,"lo":1.33e-11,"hi":1.73e-11},{"f":28840,"lo":1.36e-11,"hi":1.78e-11},{"f":29510,"lo":1.33e-11,"hi":1.7e-11},{"f":30200,"lo":1.37e-11,"hi":1.88e-11},{"f":30900,"lo":1.26e-11,"hi":1.72e-11},{"f":31620,"lo":1.35e-11,"hi":1.75e-11},{"f":32360,"lo":1.33e-11,"hi":1.7e-11},{"f":33110,"lo":1.38e-11,"hi":1.79e-11},{"f":33880,"lo":1.36e-11,"hi":1.68e-11},{"f":34670,"lo":1.32e-11,"hi":1.72e-11},{"f":35480,"lo":1.36e-11,"hi":1.91e-11},{"f":36310,"lo":1.3e-11,"hi":1.69e-11},{"f":37150,"lo":1.33e-11,"hi":1.68e-11},{"f":38020,"lo":1.27e-11,"hi":1.75e-11},{"f":38900,"lo":1.34e-11,"hi":1.7e-11},{"f":39810,"lo":1.31e-11,"hi":1.67e-11},{"f":40740,"lo":1.35e-11,"hi":1.69e-11},{"f":41690,"lo":1.27e-11,"hi":1.64e-11},{"f":42660,"lo":1.31e-11,"hi":1.77e-11},{"f":43650,"lo":1.27e-11,"hi":1.66e-11},{"f":44670,"lo":1.31e-11,"hi":1.63e-11},{"f":45710,"lo":1.2e-11,"hi":1.68e-11},{"f":46770,"lo":1.28e-11,"hi":1.6e-11},{"f":47860,"lo":1.25e-11,"hi":1.76e-11},{"f":48980,"lo":1.29e-11,"hi":1.6e-11},{"f":50120,"lo":1.26e-11,"hi":1.62e-11},{"f":51290,"lo":1.22e-11,"hi":1.56e-11},{"f":52480,"lo":1.25e-11,"hi":1.63e-11},{"f":53700,"lo":1.18e-11,"hi":1.51e-11},{"f":54950,"lo":1.2e-11,"hi":1.54e-11},{"f":56230,"lo":1.12e-11,"hi":1.68e-11},{"f":57540,"lo":1.17e-11,"hi":1.47e-11},{"f":58880,"lo":1.11e-11,"hi":1.42e-11},{"f":60260,"lo":1.13e-11,"hi":1.45e-11},{"f":61660,"lo":1.02e-11,"hi":1.36e-11},{"f":63100,"lo":1.02e-11,"hi":1.29e-11},{"f":64570,"lo":9.5e-12,"hi":1.25e-11},{"f":66070,"lo":9.3e-12,"hi":1.16e-11},{"f":67610,"lo":8.3e-12,"hi":1.21e-11},{"f":69180,"lo":8.6e-12,"hi":1.1e-11},{"f":70790,"lo":8.1e-12,"hi":1.04e-11},{"f":72440,"lo":8e-12,"hi":1.02e-11},{"f":74130,"lo":7.5e-12,"hi":9.3e-12},{"f":75860,"lo":7e-12,"hi":9e-12}
 ],
 "phonon": [
  {"f":10,"v":5.85e-11},{"f":20,"v":5.83e-11},{"f":40,"v":5.79e-11},{"f":60,"v":5.71e-11},{"f":80,"v":5.61e-11},{"f":100,"v":5.48e-11},{"f":130,"v":5.27e-11},{"f":170,"v":4.95e-11},{"f":220,"v":4.53e-11},{"f":280,"v":4.05e-11},{"f":350,"v":3.56e-11},{"f":450,"v":3.0e-11},{"f":560,"v":2.53e-11},{"f":700,"v":2.1e-11},{"f":870,"v":1.73e-11},{"f":1000,"v":1.52e-11},{"f":1200,"v":1.28e-11},{"f":1400,"v":1.1e-11},{"f":1600,"v":9.7e-12}
 ],
 "johnson": [
  {"f":110,"v":9.66e-12},{"f":130,"v":1.108e-11},{"f":160,"v":1.297e-11},{"f":200,"v":1.506e-11},{"f":250,"v":1.708e-11},{"f":320,"v":1.908e-11},{"f":400,"v":2.058e-11},{"f":500,"v":2.173e-11},{"f":650,"v":2.271e-11},{"f":800,"v":2.325e-11},{"f":1000,"v":2.362e-11},{"f":1300,"v":2.39e-11},{"f":1700,"v":2.407e-11},{"f":2200,"v":2.413e-11},{"f":3000,"v":2.412e-11},{"f":4000,"v":2.4e-11},{"f":5500,"v":2.373e-11},{"f":7000,"v":2.337e-11},{"f":9000,"v":2.278e-11},{"f":12000,"v":2.173e-11},{"f":15000,"v":2.057e-11},{"f":19000,"v":1.897e-11},{"f":24000,"v":1.707e-11},{"f":30000,"v":1.505e-11},{"f":38000,"v":1.283e-11},{"f":46000,"v":1.11e-11},{"f":55000,"v":9.59e-12}
 ],
 "notes": [
  {"f":534,"v":7.14e-10,"text":"Observed noise power","series":"obs"},
  {"f":534,"v":5.1e-10,"text":"spectrum during operation","series":"obs"},
  {"f":444,"v":2.04e-10,"text":"Read-out","series":"read"},
  {"f":444,"v":1.45e-10,"text":"noise","series":"read"},
  {"f":7830,"v":9.41e-11,"text":"Johnson","series":"john"},
  {"f":7830,"v":6.59e-11,"text":"noise＊","series":"john"},
  {"f":22.5,"v":2.11e-11,"text":"Phonon","series":"phon"},
  {"f":22.5,"v":1.49e-11,"text":"noise＊","series":"phon"}
 ],
 "arrows": [
  {"f":5821,"v":4.03e-10,"f2":1991,"v2":3.52e-11,"series":"obs"},
  {"f":796,"v":1.224e-10,"f2":796,"v2":2.95e-11,"series":"read"},
  {"f":6720,"v":6.9e-11,"f2":3090,"v2":2.46e-11,"series":"john"},
  {"f":38.9,"v":3.25e-11,"f2":38.9,"v2":5.04e-11,"series":"phon"}
 ]
},
"resolve": {"scale": {"color": "independent"}, "axis": {"x": "independent", "y": "independent"}},
"layer": [
 {"data": {"name": "obsband"}, "mark": {"type": "area", "color": "#000", "clip": true},
  "encoding": {
   "x": {"field": "f", "type": "quantitative", "scale": {"type": "log", "domain": [10, 100000], "nice": false},
    "axis": {"orient": "bottom", "values": [10,20,30,40,50,60,70,80,90,100,200,300,400,500,600,700,800,900,1000,2000,3000,4000,5000,6000,7000,8000,9000,10000,20000,30000,40000,50000,60000,70000,80000,90000,100000],
     "labelExpr": "datum.value == 10 ? '10¹' : datum.value == 100 ? '10²' : datum.value == 1000 ? '10³' : datum.value == 10000 ? '10⁴' : datum.value == 100000 ? '10⁵' : ''",
     "title": "Frequency [Hz]", "titleY": 80, "titleBaseline": "alphabetic",
     "grid": true, "gridOpacity": {"condition": {"test": "indexof([10,100,1000,10000,100000], datum.value) >= 0", "value": 1}, "value": 0},
     "tickSize": {"condition": {"test": "indexof([10,100,1000,10000,100000], datum.value) >= 0", "value": -8}, "value": -4},
     "labelPadding": 18, "labelBaseline": "top"}},
   "y": {"field": "lo", "type": "quantitative", "scale": {"type": "log", "domain": [1e-11, 3.02e-9], "nice": false},
    "axis": {"orient": "left", "values": [1e-11,2e-11,3e-11,4e-11,5e-11,6e-11,7e-11,8e-11,9e-11,1e-10,2e-10,3e-10,4e-10,5e-10,6e-10,7e-10,8e-10,9e-10,1e-9,2e-9,3e-9],
     "labelExpr": "datum.value == 1e-11 ? '10⁻¹¹' : datum.value == 1e-10 ? '10⁻¹⁰' : datum.value == 1e-9 ? '10⁻⁹' : ''",
     "title": "Crrent Power Density [A/√Hz]", "titleX": -100, "titleY": 424, "titleAngle": 270, "titleBaseline": "alphabetic", "titleAlign": "center",
     "grid": true, "gridOpacity": {"condition": {"test": "indexof([1e-11,1e-10,1e-9], datum.value) >= 0", "value": 1}, "value": 0},
     "tickSize": {"condition": {"test": "indexof([1e-11,1e-10,1e-9], datum.value) >= 0", "value": -8}, "value": -4},
     "labelPadding": 16}},
   "y2": {"field": "hi"}}},
 {"data": {"name": "obs"}, "mark": {"type": "line", "color": "#000", "strokeWidth": 1.6, "clip": true},
  "encoding": {"x": {"field": "f", "type": "quantitative", "scale": {"type": "log", "domain": [10, 100000], "nice": false}, "axis": null},
   "y": {"field": "v", "type": "quantitative", "scale": {"type": "log", "domain": [1e-11, 3.02e-9], "nice": false}, "axis": null}}},
 {"data": {"name": "readband"}, "mark": {"type": "area", "color": "#ff0000", "clip": true},
  "encoding": {"x": {"field": "f", "type": "quantitative", "scale": {"type": "log", "domain": [10, 100000], "nice": false}, "axis": null},
   "y": {"field": "lo", "type": "quantitative", "scale": {"type": "log", "domain": [1e-11, 3.02e-9], "nice": false}, "axis": null},
   "y2": {"field": "hi"}}},
 {"data": {"name": "readout"}, "mark": {"type": "line", "color": "#ff0000", "strokeWidth": 1.6, "clip": true},
  "encoding": {"x": {"field": "f", "type": "quantitative", "scale": {"type": "log", "domain": [10, 100000], "nice": false}, "axis": null},
   "y": {"field": "v", "type": "quantitative", "scale": {"type": "log", "domain": [1e-11, 3.02e-9], "nice": false}, "axis": null}}},
 {"data": {"name": "phonon"}, "mark": {"type": "line", "color": "#1a881a", "strokeWidth": 1.6, "interpolate": "monotone", "clip": true},
  "encoding": {"x": {"field": "f", "type": "quantitative", "scale": {"type": "log", "domain": [10, 100000], "nice": false},
    "axis": {"orient": "top", "values": [10,20,30,40,50,60,70,80,90,100,200,300,400,500,600,700,800,900,1000,2000,3000,4000,5000,6000,7000,8000,9000,10000,20000,30000,40000,50000,60000,70000,80000,90000,100000],
     "labels": false, "title": null, "grid": false,
     "tickSize": {"condition": {"test": "indexof([10,100,1000,10000,100000], datum.value) >= 0", "value": -8}, "value": -4}}},
   "y": {"field": "v", "type": "quantitative", "scale": {"type": "log", "domain": [1e-11, 3.02e-9], "nice": false},
    "axis": {"orient": "right", "values": [1e-11,2e-11,3e-11,4e-11,5e-11,6e-11,7e-11,8e-11,9e-11,1e-10,2e-10,3e-10,4e-10,5e-10,6e-10,7e-10,8e-10,9e-10,1e-9,2e-9,3e-9],
     "labels": false, "title": null, "grid": false,
     "tickSize": {"condition": {"test": "indexof([1e-11,1e-10,1e-9], datum.value) >= 0", "value": -8}, "value": -4}}}}},
 {"data": {"name": "johnson"}, "mark": {"type": "line", "color": "#0000ff", "strokeWidth": 1.6, "interpolate": "monotone", "clip": true},
  "encoding": {"x": {"field": "f", "type": "quantitative", "scale": {"type": "log", "domain": [10, 100000], "nice": false}, "axis": null},
   "y": {"field": "v", "type": "quantitative", "scale": {"type": "log", "domain": [1e-11, 3.02e-9], "nice": false}, "axis": null}}},
 {"data": {"name": "arrows"}, "mark": {"type": "rule", "strokeWidth": 4.5},
  "encoding": {"x": {"field": "f", "type": "quantitative", "scale": {"type": "log", "domain": [10, 100000], "nice": false}, "axis": null},
   "y": {"field": "v", "type": "quantitative", "scale": {"type": "log", "domain": [1e-11, 3.02e-9], "nice": false}, "axis": null},
   "x2": {"field": "f2"}, "y2": {"field": "v2"},
   "color": {"field": "series", "type": "nominal", "scale": {"domain": ["obs","read","john","phon"], "range": ["#000000","#ff0000","#4d4dff","#4fa84f"]}, "legend": null}}},
 {"data": {"name": "arrows"}, "transform": [{"filter": "datum.series == 'obs'"}], "mark": {"type": "point", "shape": "triangle-up", "filled": true, "size": 600, "opacity": 1, "angle": 200, "color": "#000000"},
  "encoding": {"x": {"field": "f2", "type": "quantitative", "scale": {"type": "log", "domain": [10, 100000], "nice": false}, "axis": null},
   "y": {"field": "v2", "type": "quantitative", "scale": {"type": "log", "domain": [1e-11, 3.02e-9], "nice": false}, "axis": null}}},
 {"data": {"name": "arrows"}, "transform": [{"filter": "datum.series == 'read'"}], "mark": {"type": "point", "shape": "triangle-up", "filled": true, "size": 600, "opacity": 1, "angle": 180, "color": "#ff0000"},
  "encoding": {"x": {"field": "f2", "type": "quantitative", "scale": {"type": "log", "domain": [10, 100000], "nice": false}, "axis": null},
   "y": {"field": "v2", "type": "quantitative", "scale": {"type": "log", "domain": [1e-11, 3.02e-9], "nice": false}, "axis": null}}},
 {"data": {"name": "arrows"}, "transform": [{"filter": "datum.series == 'john'"}], "mark": {"type": "point", "shape": "triangle-up", "filled": true, "size": 600, "opacity": 1, "angle": 212, "color": "#4d4dff"},
  "encoding": {"x": {"field": "f2", "type": "quantitative", "scale": {"type": "log", "domain": [10, 100000], "nice": false}, "axis": null},
   "y": {"field": "v2", "type": "quantitative", "scale": {"type": "log", "domain": [1e-11, 3.02e-9], "nice": false}, "axis": null}}},
 {"data": {"name": "arrows"}, "transform": [{"filter": "datum.series == 'phon'"}], "mark": {"type": "point", "shape": "triangle-up", "filled": true, "size": 600, "opacity": 1, "angle": 0, "color": "#4fa84f"},
  "encoding": {"x": {"field": "f2", "type": "quantitative", "scale": {"type": "log", "domain": [10, 100000], "nice": false}, "axis": null},
   "y": {"field": "v2", "type": "quantitative", "scale": {"type": "log", "domain": [1e-11, 3.02e-9], "nice": false}, "axis": null}}},
 {"data": {"name": "notes"}, "mark": {"type": "text", "align": "left", "baseline": "alphabetic", "font": "Liberation Sans, Noto Sans CJK JP", "fontSize": 53},
  "encoding": {"x": {"field": "f", "type": "quantitative", "scale": {"type": "log", "domain": [10, 100000], "nice": false}, "axis": null},
   "y": {"field": "v", "type": "quantitative", "scale": {"type": "log", "domain": [1e-11, 3.02e-9], "nice": false}, "axis": null},
   "text": {"field": "text", "type": "nominal"},
   "color": {"field": "series", "type": "nominal", "scale": {"domain": ["obs","read","john","phon"], "range": ["#000000","#ff0000","#6b6bff","#4fa84f"]}, "legend": null}}}
]
}
